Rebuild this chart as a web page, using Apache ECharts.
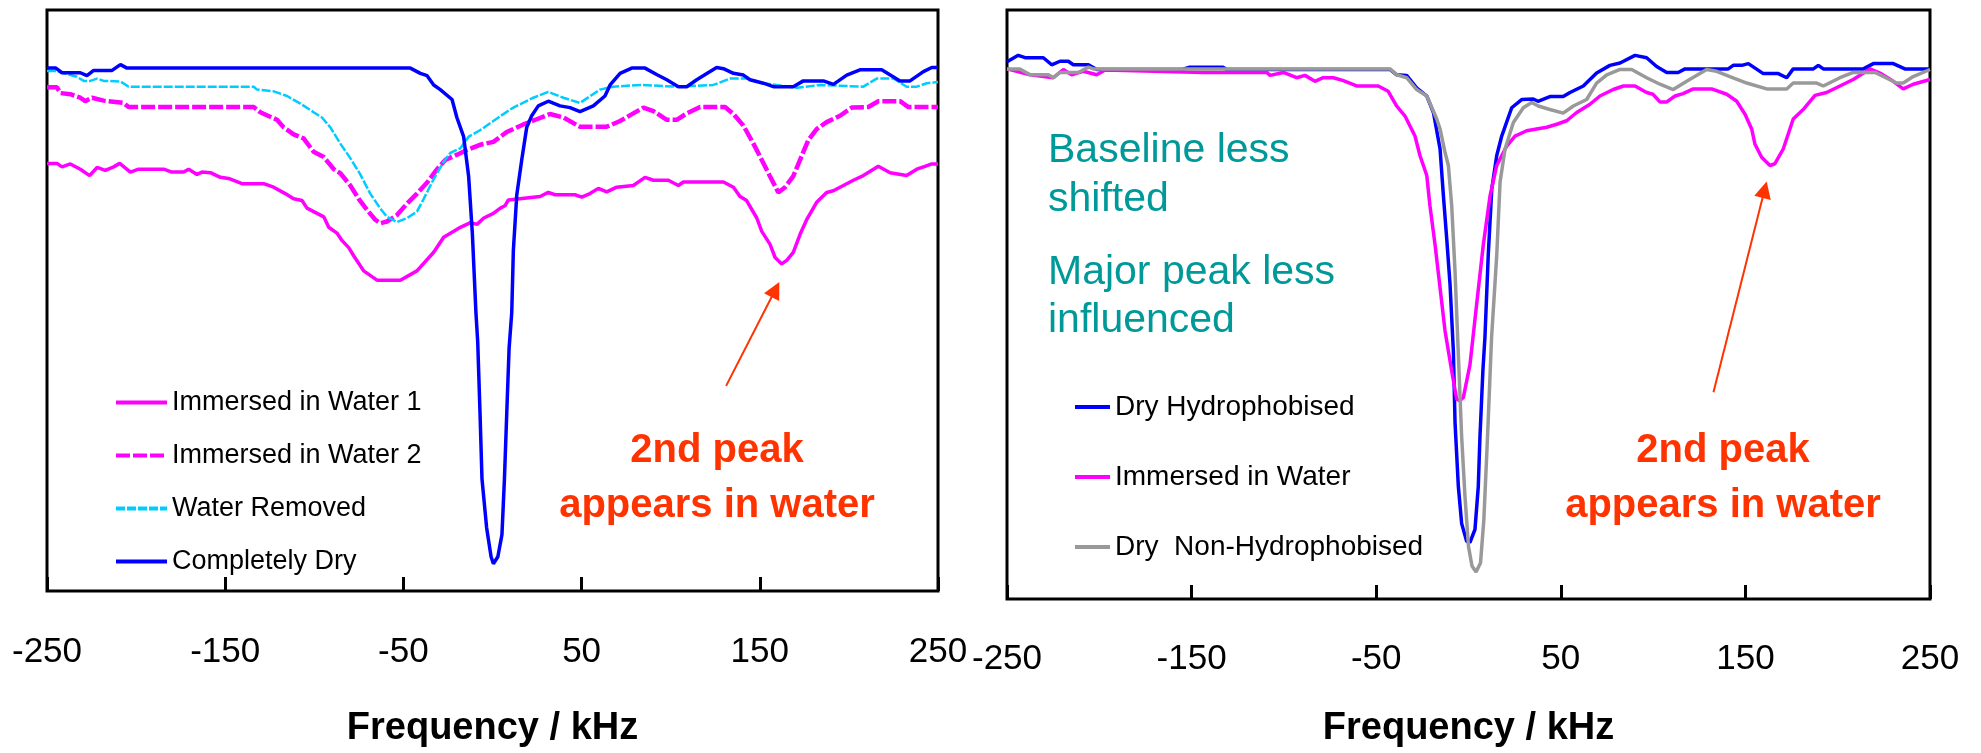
<!DOCTYPE html>
<html>
<head>
<meta charset="utf-8">
<script src="https://cdn.jsdelivr.net/npm/echarts@6/dist/echarts.min.js"></script>
<style>
html,body{margin:0;padding:0;background:#fff;}
#chart{width:1981px;height:753px;}
</style>
</head>
<body>
<div id="chart"></div>
<script>
// Frequency (kHz) tick labels
const freqTicks = [-250, -150, -50, 50, 150, 250];

// Left panel series: [frequency kHz, relative signal]
const leftWater1 = [[-250,73.6],[-244.4,73.6],[-241.6,73.0],[-236.9,73.5],[-231.3,72.6],[-226.1,71.5],[-221.9,72.9],[-217.3,72.4],[-212.6,73.0],[-209.2,73.6],[-203.2,72.1],[-198.6,72.6],[-184.5,72.6],[-179.9,72.1],[-173.3,72.1],[-170.5,72.6],[-165.8,71.7],[-163.0,72.1],[-158.3,72.0],[-152.7,71.2],[-148.1,71.0],[-140.6,70.1],[-128.4,70.1],[-122.8,69.5],[-116.3,68.4],[-111.6,67.5],[-106.9,67.2],[-104.1,65.9],[-94.7,64.4],[-91.9,62.6],[-87.3,61.6],[-84.4,60.3],[-80.7,59.1],[-77.9,57.7],[-72.3,55.1],[-64.8,53.5],[-51.7,53.5],[-42.4,55.1],[-33.0,58.3],[-27.4,60.9],[-18.0,62.6],[-12.4,63.4],[-8.7,63.1],[-4.9,64.2],[0.5,65.0],[4.4,65.9],[7.0,66.3],[8.9,67.3],[26.7,67.9],[31.3,68.6],[35.1,68.2],[46.3,68.2],[50.1,67.8],[54.7,68.4],[59.4,69.3],[64.1,68.7],[69.7,69.5],[79.0,69.8],[85.6,71.2],[90.3,70.7],[98.7,70.7],[104.3,69.8],[107.1,70.4],[129.6,70.4],[135.2,69.5],[138.9,67.9],[142.6,67.2],[148.3,64.2],[151.1,61.9],[155.7,59.7],[158.6,57.4],[162.3,56.3],[165.1,56.9],[168.8,58.3],[172.6,61.4],[176.3,63.9],[181.9,66.9],[187.5,68.6],[191.3,68.9],[196.9,69.8],[202.5,70.7],[208.1,71.5],[216.5,73.1],[223.1,72.0],[232.4,71.5],[238.1,72.6],[242.7,73.1],[246.5,73.5],[250,73.5]];

const leftWater2 = [[-250,86.7],[-244.4,86.7],[-242.5,85.7],[-236.9,85.5],[-231.3,84.9],[-228.5,84.3],[-224.7,84.9],[-218.2,84.4],[-207.0,84.0],[-204.2,83.3],[-134.0,83.3],[-130.3,82.4],[-120.9,81.1],[-117.2,79.8],[-111.6,78.6],[-106.0,77.9],[-100.4,75.6],[-94.7,74.7],[-89.1,72.6],[-85.4,71.9],[-79.8,69.8],[-75.1,67.5],[-70.4,65.6],[-65.8,63.9],[-62.9,63.3],[-59.2,63.6],[-53.6,64.7],[-47.9,66.7],[-42.4,68.4],[-36.7,70.3],[-31.1,72.6],[-26.5,74.2],[-19.9,75.1],[-14.3,75.9],[-7.0,76.8],[0.5,77.3],[8.0,79.0],[17.3,80.3],[24.8,81.2],[32.3,82.1],[39.8,81.5],[49.1,79.9],[64.1,79.9],[71.6,80.9],[84.7,83.2],[90.3,82.6],[97.8,81.1],[103.4,81.1],[109.0,82.2],[116.5,83.3],[130.5,83.3],[135.2,82.1],[140.8,80.1],[146.4,77.0],[151.1,74.2],[155.7,71.4],[160.4,68.6],[164.2,69.5],[168.8,71.4],[172.6,74.2],[177.2,77.6],[181.9,79.5],[187.5,80.7],[195.0,81.8],[201.6,83.2],[210.9,83.3],[216.5,84.3],[228.7,84.3],[233.4,83.3],[250,83.3]];

const leftWaterRemoved = [[-250,89.5],[-244.4,89.5],[-240.6,89.1],[-233.2,88.5],[-229.4,87.8],[-225.7,87.8],[-221.9,88.2],[-218.2,87.8],[-208.8,87.7],[-204.2,86.8],[-134.0,86.8],[-132.1,86.3],[-122.8,86.0],[-115.3,85.2],[-107.8,83.9],[-100.4,82.4],[-95.7,81.5],[-91.0,79.8],[-85.4,77.0],[-79.8,74.5],[-74.2,71.7],[-68.6,68.4],[-62.9,65.8],[-59.2,64.4],[-53.6,63.5],[-47.9,64.2],[-42.4,65.3],[-38.6,67.5],[-33.0,70.9],[-27.4,73.9],[-23.7,75.4],[-18.0,76.2],[-13.4,78.2],[-7.0,79.3],[0.5,80.9],[8.1,82.5],[11.7,83.2],[22.9,84.9],[31.3,85.9],[39.8,84.9],[49.1,84.0],[60.3,86.3],[67.8,86.8],[82.8,87.1],[103.4,86.8],[123.9,87.1],[133.3,88.2],[142.6,88.2],[152.0,87.4],[170.7,86.6],[183.8,87.1],[208.1,86.8],[215.6,88.2],[225.0,88.2],[232.4,86.8],[238.1,86.8],[243.7,87.4],[250,87.6]];

const leftDry = [[-250,90.0],[-245,90.0],[-241.6,89.2],[-231.3,89.2],[-227.6,88.7],[-223.8,89.6],[-213.5,89.6],[-208.8,90.6],[-205.1,90.0],[-46.1,90.0],[-40.5,89.1],[-36.7,88.7],[-33.0,87.1],[-29.3,86.3],[-22.7,84.6],[-20.0,81.5],[-16.2,78.2],[-13.4,71.4],[-11.3,61.5],[-9.3,47.9],[-8.3,42.9],[-7.0,30.6],[-5.9,19.3],[-3.3,10.9],[-0.8,5.9],[0.5,4.7],[3.0,5.9],[5.3,9.7],[6.7,19.3],[8.0,30.6],[9.3,41.7],[10.8,47.9],[11.7,58.6],[13.6,68.1],[16.4,74.2],[19.2,79.8],[22.0,81.8],[25.7,83.5],[31.3,84.3],[37.9,83.5],[43.5,83.2],[49.1,82.5],[56.6,83.5],[63.1,85.2],[66.0,87.1],[71.6,89.1],[78.1,90.0],[85.6,90.0],[92.1,88.9],[97.8,88.0],[104.3,86.8],[109.0,86.8],[114.6,88.0],[122.1,89.4],[125.8,90.1],[129.6,89.9],[135.2,89.1],[140.8,88.8],[144.5,88.0],[152.0,87.4],[157.6,86.8],[168.8,86.8],[174.4,87.8],[185.7,87.8],[191.3,87.2],[198.8,88.8],[206.2,89.7],[218.4,89.7],[228.7,87.8],[234.3,87.8],[241.8,89.4],[246.5,90.1],[250,90.1]];

// Right panel series
const rightDryHydro = [[-250,91.2],[-243.9,92.3],[-240.2,91.9],[-230.3,91.9],[-225.8,90.7],[-221.3,91.3],[-216.8,91.3],[-214.1,90.7],[-205.9,90.7],[-201.4,89.9],[-155.0,89.9],[-151.0,90.3],[-133.0,90.3],[-131.0,89.9],[-42.5,89.9],[-38.9,89.0],[-33.5,88.9],[-28.1,86.8],[-22.6,85.4],[-19.0,82.6],[-15.4,76.4],[-13.6,68.5],[-11.8,61.2],[-10.0,53.4],[-8.2,42.1],[-7.3,30.0],[-5.5,19.1],[-3.7,12.8],[-1.0,9.8],[0.8,9.6],[3.5,11.8],[5.3,19.1],[6.2,27.5],[7.8,38.8],[8.9,44.4],[10.7,58.4],[12.6,69.6],[15.3,75.3],[18.0,78.6],[23.4,83.4],[28.8,84.8],[35.1,84.9],[37.6,84.5],[44.1,85.3],[51.3,85.3],[55.0,86.0],[62.2,87.1],[69.4,89.3],[76.6,90.6],[82.1,91.0],[90.2,92.3],[96.5,91.9],[101.9,90.4],[107.4,89.4],[113.6,89.4],[117.3,90.0],[140.7,90.0],[143.4,90.6],[148.0,90.6],[151.6,90.9],[159.7,89.2],[167.8,89.2],[172.4,88.5],[175.9,90.0],[186.8,90.0],[189.5,90.6],[192.2,90.0],[213.9,90.0],[219.3,90.9],[230.1,90.9],[236.4,90.0],[250,90.0]];

const rightImmersed = [[-250,90.0],[-237.5,89.0],[-224.9,88.5],[-219.5,89.9],[-215.0,89.0],[-208.7,89.6],[-201.4,89.0],[-196.9,89.8],[-143.7,89.4],[-109.3,89.4],[-107.5,88.9],[-100.3,89.4],[-93.1,88.5],[-88.6,88.9],[-83.2,87.9],[-78.7,88.5],[-73.2,88.5],[-67.8,88.0],[-60.6,87.1],[-48.9,87.1],[-43.5,86.2],[-38.9,83.7],[-34.4,82.0],[-29.0,78.6],[-26.3,75.3],[-22.6,71.9],[-20.9,66.8],[-18.1,60.1],[-15.4,52.8],[-12.7,45.5],[-9.1,38.7],[-6.4,33.9],[-4.6,33.7],[-2.8,34.2],[0.8,39.8],[4.4,50.0],[8.0,60.1],[11.7,68.5],[15.3,73.6],[20.7,76.9],[25.2,78.6],[31.5,79.5],[36.9,79.8],[42.4,80.1],[47.8,80.6],[53.2,81.2],[58.6,82.6],[65.8,84.0],[71.2,85.4],[78.4,86.5],[83.9,87.1],[90.2,87.1],[96.5,86.0],[99.9,85.7],[103.7,84.4],[107.4,84.4],[111.9,85.4],[116.2,85.8],[121.8,86.6],[131.7,86.6],[139.9,85.7],[145.3,84.5],[149.8,82.3],[153.4,79.8],[155.2,77.2],[158.8,75.0],[163.3,73.6],[166.0,73.9],[170.5,76.4],[174.1,79.8],[175.9,81.5],[181.3,83.1],[187.7,85.5],[194.0,86.0],[201.2,87.1],[208.4,88.2],[217.5,90.0],[222.9,89.3],[230.1,87.9],[235.5,86.6],[240.9,87.4],[250,88.2]];

const rightDryNonHydro = [[-250,90.0],[-243,90.0],[-237.5,89.0],[-227.6,89.0],[-224.9,88.5],[-221.3,89.4],[-211.3,89.4],[-205.9,90.3],[-203.2,90.0],[-42.5,90.0],[-38.9,89.0],[-33.5,88.5],[-28.1,86.5],[-22.6,85.4],[-17.2,81.5],[-15.4,79.8],[-12.7,75.8],[-10.9,73.6],[-9.1,66.8],[-7.3,55.6],[-5.5,41.5],[-3.7,27.5],[-1.9,17.4],[0.0,8.9],[1.9,5.6],[4.1,4.6],[6.5,6.1],[8.3,13.4],[10.3,27.5],[12.5,44.4],[15.3,58.4],[17.1,70.8],[19.8,76.4],[24.3,80.9],[29.7,83.4],[34.2,84.3],[37.8,83.7],[44.1,83.1],[51.3,82.5],[56.8,83.7],[64.0,84.8],[69.4,87.6],[74.9,89.0],[82.1,89.9],[88.4,89.9],[96.5,88.5],[103.7,87.4],[110.9,86.5],[118.2,87.9],[129.0,89.9],[134.4,89.6],[141.6,88.7],[150.7,87.6],[161.5,86.6],[172.4,86.6],[175.9,87.6],[188.6,87.6],[192.2,87.1],[201.2,88.5],[208.4,89.4],[220.2,89.4],[231.9,87.6],[235.5,87.6],[240.9,88.7],[250,89.9]];

// Annotation arrows (data coordinates: start -> tip)
const arrowLeft = [[131.1, 35.3], [158.8, 51.9]];
const arrowRight = [[132.7, 35.1], [160.4, 69.5]];

const FONT = '"Liberation Sans", Arial, sans-serif';
const RED = '#FF3300';
const TEAL = '#009999';

function xAxisCfg(gridIndex, margin, nameGap) {
  return {
    type: 'value', gridIndex: gridIndex, min: -250, max: 250,
    name: 'Frequency / kHz', nameLocation: 'middle', nameGap: nameGap,
    nameTextStyle: { fontSize: 38, fontWeight: 'bold', fontFamily: FONT, color: '#000' },
    axisLine: { show: false },
    axisTick: { show: true, inside: true, length: 14, lineStyle: { color: '#000', width: 3 }, customValues: freqTicks },
    axisLabel: { show: true, fontSize: 35, fontFamily: FONT, color: '#000', margin: margin, customValues: freqTicks },
    splitLine: { show: false }
  };
}
function yAxisCfg(gridIndex) {
  return { type: 'value', gridIndex: gridIndex, min: 0, max: 100, show: false, splitLine: { show: false } };
}
function lineSeries(name, data, color, width, type, xi, z, extra) {
  const s = {
    name: name, type: 'line', data: data, xAxisIndex: xi, yAxisIndex: xi,
    showSymbol: false, symbol: 'none', smooth: false, z: z, animation: false,
    lineStyle: { color: color, width: width, type: type },
    itemStyle: { color: color }
  };
  return Object.assign(s, extra || {});
}
function arrowMark(arr) {
  return {
    markLine: {
      silent: true, animation: false,
      symbol: ['none', 'triangle'], symbolSize: 17,
      label: { show: false },
      lineStyle: { color: RED, width: 2, type: 'solid' },
      data: [[{ coord: arr[0] }, { coord: arr[1] }]]
    }
  };
}

const chart = echarts.init(document.getElementById('chart'), null, { renderer: 'canvas' });
chart.setOption({
  backgroundColor: '#fff',
  animation: false,
  grid: [
    { left: 47, top: 10, width: 891, height: 595, show: true, borderColor: '#000', borderWidth: 3, backgroundColor: 'transparent' },
    { left: 1007, top: 10, width: 923, height: 593, show: true, borderColor: '#000', borderWidth: 3, backgroundColor: 'transparent' }
  ],
  xAxis: [xAxisCfg(0, 44, 119), xAxisCfg(1, 43, 111)],
  yAxis: [yAxisCfg(0), yAxisCfg(1)],
  legend: [
    {
      data: ['Immersed in Water 1', 'Immersed in Water 2', 'Water Removed', 'Completely Dry'],
      orient: 'vertical', left: 114, top: 389, itemWidth: 51, itemHeight: 3, itemGap: 26, padding: 0,
      selectedMode: false, lineStyle: { width: 4 }, itemStyle: { opacity: 0 },
      textStyle: { fontSize: 27, fontFamily: FONT, color: '#000' }
    },
    {
      data: ['Dry Hydrophobised', 'Immersed in Water', 'Dry  Non-Hydrophobised'],
      orient: 'vertical', left: 1073, top: 393, itemWidth: 35, itemHeight: 3, itemGap: 42, padding: 0,
      selectedMode: false, lineStyle: { width: 4 }, itemStyle: { opacity: 0 },
      textStyle: { fontSize: 28, fontFamily: FONT, color: '#000' }
    }
  ],
  series: [
    lineSeries('Immersed in Water 1', leftWater1, '#FF00FF', 3.5, 'solid', 0, 2, arrowMark(arrowLeft)),
    lineSeries('Immersed in Water 2', leftWater2, '#FF00FF', 4.5, [14, 3], 0, 3),
    lineSeries('Water Removed', leftWaterRemoved, '#00CCFF', 2.5, [9, 2], 0, 4),
    lineSeries('Completely Dry', leftDry, '#0000FF', 3.5, 'solid', 0, 5),
    lineSeries('Dry Hydrophobised', rightDryHydro, '#0000FF', 3.5, 'solid', 1, 2),
    lineSeries('Immersed in Water', rightImmersed, '#FF00FF', 3.5, 'solid', 1, 3, arrowMark(arrowRight)),
    lineSeries('Dry  Non-Hydrophobised', rightDryNonHydro, '#999999', 3.5, 'solid', 1, 4)
  ],
  graphic: [
    { type: 'text', x: 717, y: 451, silent: true, style: { text: '2nd peak', fill: RED, font: 'bold 40px ' + FONT, align: 'center', textAlign: 'center', verticalAlign: 'middle', textVerticalAlign: 'middle' } },
    { type: 'text', x: 717, y: 506, silent: true, style: { text: 'appears in water', fill: RED, font: 'bold 40px ' + FONT, align: 'center', textAlign: 'center', verticalAlign: 'middle', textVerticalAlign: 'middle' } },
    { type: 'text', x: 1723, y: 451, silent: true, style: { text: '2nd peak', fill: RED, font: 'bold 40px ' + FONT, align: 'center', textAlign: 'center', verticalAlign: 'middle', textVerticalAlign: 'middle' } },
    { type: 'text', x: 1723, y: 506, silent: true, style: { text: 'appears in water', fill: RED, font: 'bold 40px ' + FONT, align: 'center', textAlign: 'center', verticalAlign: 'middle', textVerticalAlign: 'middle' } },
    { type: 'text', x: 1048, y: 151, silent: true, style: { text: 'Baseline less', fill: TEAL, font: '41px ' + FONT, align: 'left', textAlign: 'left', verticalAlign: 'middle', textVerticalAlign: 'middle' } },
    { type: 'text', x: 1048, y: 200, silent: true, style: { text: 'shifted', fill: TEAL, font: '41px ' + FONT, align: 'left', textAlign: 'left', verticalAlign: 'middle', textVerticalAlign: 'middle' } },
    { type: 'text', x: 1048, y: 273, silent: true, style: { text: 'Major peak less', fill: TEAL, font: '41px ' + FONT, align: 'left', textAlign: 'left', verticalAlign: 'middle', textVerticalAlign: 'middle' } },
    { type: 'text', x: 1048, y: 321, silent: true, style: { text: 'influenced', fill: TEAL, font: '41px ' + FONT, align: 'left', textAlign: 'left', verticalAlign: 'middle', textVerticalAlign: 'middle' } }
  ]
});
</script>
</body>
</html>
